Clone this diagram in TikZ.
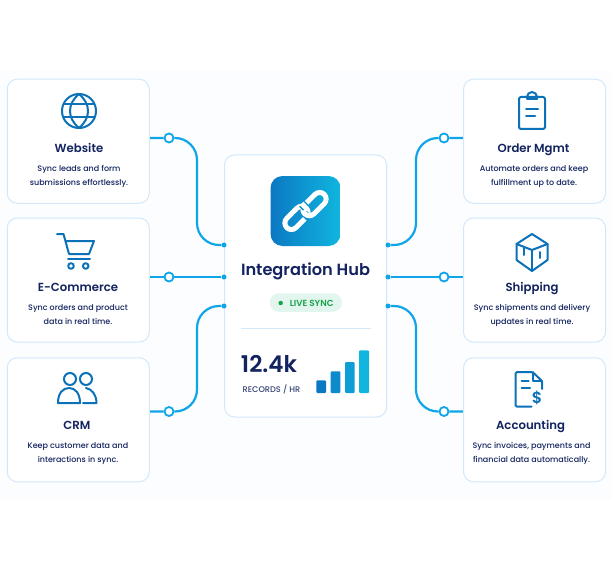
\documentclass[tikz,border=0pt]{standalone}
\usepackage{fontspec}
\setmainfont[BoldFont={Poppins SemiBold}]{Poppins Medium}
\usetikzlibrary{backgrounds,positioning,calc}
\definecolor{edgeblue}{HTML}{D3E8FA}
\definecolor{linkblue}{HTML}{0EA5E9}
\definecolor{iconblue}{HTML}{0B72B9}
\definecolor{navy}{HTML}{12235F}
\definecolor{pale}{HTML}{FCFDFE}
\definecolor{barlo}{HTML}{0B78C4}
\definecolor{barhi}{HTML}{10B6DE}
\definecolor{tilemid}{HTML}{0C93D2}
\definecolor{pillgreen}{HTML}{E2F5EE}
\definecolor{livegreen}{HTML}{17A34A}
\tikzset{
  card/.style={draw=edgeblue, line width=1pt, fill=white, rounded corners=10pt, minimum width=142pt, minimum height=124pt, inner sep=0pt},
  cardname/.style={font=\fontsize{11.7}{14}\selectfont\bfseries, text=navy, inner sep=0pt, text height=8.5pt, text depth=0pt},
  cardtext/.style={font=\fontsize{8}{14}\selectfont, text=navy, align=center, inner sep=0pt},
  link/.style={draw=linkblue, line width=2.2pt, rounded corners=22pt},
  ring/.style={circle, draw=linkblue, line width=1.8pt, fill=white, minimum size=9pt, inner sep=0pt},
  port/.style={circle, fill=linkblue, minimum size=5pt, inner sep=0pt},
  icon/.style={draw=iconblue, line width=2pt, line join=round, line cap=round},
  chain/.style={white, line width=5pt, rounded corners=6.5pt},
  chaingap/.style={tilemid, line width=8pt},
  bar/.style={rounded corners=1pt}
}
\begin{document}
\begin{tikzpicture}[x=1pt, y=-1pt]
  \useasboundingbox (0,0) rectangle (612,564);

  % cards on the left
  \node[card] (web) at (78.25,141.25) {};
  \node[card] (shop) at (78.25,280) {};
  \node[card] (crm) at (78.25,419.75) {};
  % cards on the right
  \node[card] (order) at (534.5,141.25) {};
  \node[card] (ship) at (534.5,280) {};
  \node[card] (acct) at (534.5,419.75) {};
  % the hub
  \node[card, minimum width=162pt, minimum height=262pt] (hub) at (305.5,286) {};

  % titles and texts
  \node[cardname] at (79,148.5) {Website};
  \node[cardtext] at (79,176.5) {Sync leads and form\\submissions effortlessly.};
  \node[cardname] at (78,287) {E-Commerce};
  \node[cardtext] at (78,315) {Sync orders and product\\data in real time.};
  \node[cardname] at (77,425.5) {CRM};
  \node[cardtext] at (78,453.5) {Keep customer data and\\interactions in sync.};
  \node[cardname] at (533.5,148.5) {Order Mgmt};
  \node[cardtext] at (534,176.5) {Automate orders and keep\\fulfillment up to date.};
  \node[cardname] at (532,287) {Shipping};
  \node[cardtext] at (532,315) {Sync shipments and delivery\\updates in real time.};
  \node[cardname] at (530.5,425.5) {Accounting};
  \node[cardtext] at (531.5,453.5) {Sync invoices, payments and\\financial data automatically.};

  % rings and ports
  \node[ring] (rweb) at (169,138) {};
  \node[ring] (rshop) at (169,277) {};
  \node[ring] (rcrm) at (169,411.5) {};
  \node[ring] (rorder) at (444,138) {};
  \node[ring] (rship) at (444,277) {};
  \node[ring] (racct) at (444,411.5) {};
  \node[port] (pweb) at (224,245) {};
  \node[port] (pshop) at (224,277) {};
  \node[port] (pcrm) at (224,306) {};
  \node[port] (porder) at (388,245) {};
  \node[port] (pship) at (388,277) {};
  \node[port] (pacct) at (388,306) {};
  \coordinate (buslup) at (197,191);
  \coordinate (busldn) at (197,358);
  \coordinate (busrup) at (416,191);
  \coordinate (busrdn) at (416,358);

  \begin{scope}[on background layer]
    \fill[pale] (0,70) rectangle (612,500);
    \draw[link] (web.east |- rweb) -- (rweb) -| (buslup) |- (pweb);
    \draw[link] (shop.east |- rshop) -- (pshop);
    \draw[link] (crm.east |- rcrm) -- (rcrm) -| (busldn) |- (pcrm);
    \draw[link] (order.west |- rorder) -- (rorder) -| (busrup) |- (porder);
    \draw[link] (ship.west |- rship) -- (pship);
    \draw[link] (acct.west |- racct) -- (racct) -| (busrdn) |- (pacct);
  \end{scope}

  % globe
  \begin{scope}[shift={(79,111)}, icon]
    \draw (0,0) circle (17);
    \draw (0,-17) .. controls (-12,-7) and (-12,7) .. (0,17);
    \draw (0,-17) .. controls (12,-7) and (12,7) .. (0,17);
    \draw (-15,-6.5) -- (15,-6.5);
    \draw (-15,6.5) -- (15,6.5);
  \end{scope}
  % cart
  \begin{scope}[shift={(57,234)}, icon]
    \draw (0,0) -- (6.5,0) -- (12,20) -- (32,20) -- (37,7) -- (9,7);
    \draw (11,25) -- (33,25);
    \draw (14,32) circle (2.8);
    \draw (28.7,32) circle (2.8);
  \end{scope}
  % people
  \begin{scope}[shift={(58,369)}, icon]
    \draw (12,10) circle (6);
    \draw (28,10) circle (6);
    \draw (0,34) .. controls (0,24) and (5,19) .. (11,19) .. controls (17,19) and (22,24) .. (22,34) -- cycle;
    \draw (28,19) .. controls (34,20) and (38.5,26) .. (38.5,34) -- (25,34);
  \end{scope}
  % clipboard
  \begin{scope}[shift={(519,97)}, icon]
    \draw[rounded corners=2pt] (0,0) rectangle (26,32);
    \draw (8,2) -- (8,0) arc (180:360:5) -- (18,2) -- cycle;
    \draw (7,12.5) -- (19,12.5);
    \draw (7,19.5) -- (16,19.5);
  \end{scope}
  % box
  \begin{scope}[shift={(532,252)}, icon]
    \draw (0,-18) -- (15.5,-8) -- (15.5,8) -- (0,19) -- (-15.5,8) -- (-15.5,-8) -- cycle;
    \draw (-15.5,-8) -- (0,-2) -- (15.5,-8);
    \draw (0,-2) -- (0,19);
    \draw (-8,-4) -- (-8,3);
    \draw (7.7,0) -- (7.7,6);
  \end{scope}
  % invoice
  \begin{scope}[shift={(515.5,372)}, icon]
    \draw[rounded corners=1.5pt] (16,34.7) -- (0,34.7) -- (0,0) -- (17,0) -- (26.5,9) -- (26.5,17);
    \draw (17,0) -- (17,9) -- (26.5,9);
    \draw (6,9) -- (13,9);
    \draw (6,16) -- (14.5,16);
    \node[inner sep=0pt, text=iconblue, font=\fontsize{16}{16}\selectfont\bfseries] (dollar) at (21.5,26) {\$};
  \end{scope}

  % hub badge and link icon
  \node[rounded corners=12pt, minimum width=70pt, minimum height=70pt, inner sep=0pt, shade, shading angle=135, left color=barlo, right color=barhi] (tile) at (305.5,211) {};
  \begin{scope}[shift={(tile)}, rotate=45]
    \draw[chain] (-25,-8) rectangle (2.5,5);
    \draw[chaingap] (-6,5) -- (1,5);
    \draw[chain] (-2.5,-5) rectangle (25,8);
    \draw[chaingap] (2.5,-7.5) -- (2.5,-2);
    \draw[white, line width=5pt] (2.5,-8) -- (2.5,-1);
  \end{scope}
  \node[font=\fontsize{16.2}{20}\selectfont\bfseries, text=navy, inner sep=0pt] (hubname) at (305.5,271.5) {Integration Hub};

  % live pill
  \node[fill=pillgreen, rounded corners=9pt, minimum width=72pt, minimum height=18.5pt, inner sep=0pt] (pill) at (305.8,302.5) {};
  \node[circle, fill=livegreen, minimum size=4.5pt, inner sep=0pt] (pilldot) at (280.7,303) {};
  \node[font=\fontsize{8.8}{10}\selectfont\bfseries, text=livegreen, inner sep=0pt, right=6.5pt of pilldot] (livetext) {LIVE SYNC};
  \coordinate (rulel) at (241,328.5);
  \coordinate (ruler) at (371,328.5);
  \draw[edgeblue] (rulel) -- (ruler);

  % records
  \node[font=\fontsize{23}{26}\selectfont\bfseries, text=navy, inner sep=0pt] (count) at (269,364) {12.4k};
  \node[font=\fontsize{8.2}{9}\selectfont, text=navy!85, inner sep=0pt] (unit) at (271.5,389) {RECORDS / HR};
  \fill[bar, barlo] (316.3,380.3) rectangle (326,393);
  \fill[bar, barlo!70!barhi] (330.7,371.3) rectangle (340.3,393);
  \fill[bar, barlo!40!barhi] (345,362) rectangle (354.7,393);
  \fill[bar, barhi] (359,350.3) rectangle (369,393);
\end{tikzpicture}
\end{document}
